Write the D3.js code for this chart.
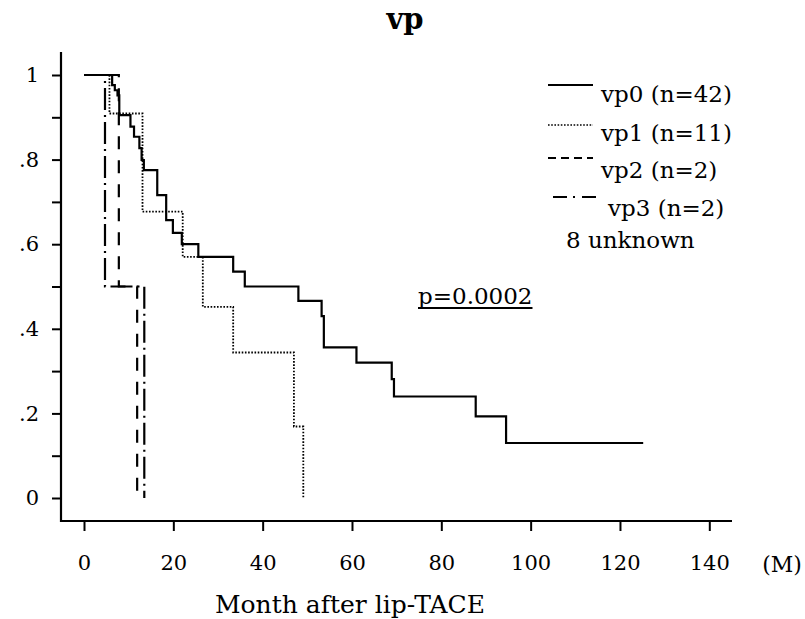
<!DOCTYPE html>
<html><head><meta charset="utf-8">
<script src="https://cdn.jsdelivr.net/npm/d3@7"></script>
<style>body{margin:0;background:#fff}svg{display:block}</style>
</head><body>
<svg id="chart" width="805" height="619"></svg>
<script>
// ---- data ----
const xTickValues = [0, 20, 40, 60, 80, 100, 120, 140];
const yTickValues = [0, 0.1, 0.2, 0.3, 0.4, 0.5, 0.6, 0.7, 0.8, 0.9, 1];
const yTickLabels = ["0", "", ".2", "", ".4", "", ".6", "", ".8", "", "1"];

const vp0Months   = [0, 6.3, 6.9, 7.5, 7.9, 10.4, 11.2, 12.4, 12.9, 13.4, 16.4, 18.4, 19.9, 21.9, 25.6, 33.4, 36.0, 48.0, 53.2, 53.7, 61.0, 68.9, 69.4, 87.7, 94.5, 125.2];
const vp0Survival = [1, 0.976, 0.964, 0.952, 0.905, 0.878, 0.854, 0.827, 0.799, 0.775, 0.716, 0.657, 0.627, 0.600, 0.570, 0.535, 0.500, 0.466, 0.430, 0.356, 0.320, 0.281, 0.240, 0.193, 0.130, 0.130];

const vp1Months   = [0, 5.7, 13.1, 22.1, 26.6, 33.4, 47.0, 49.1];
const vp1Survival = [1, 0.909, 0.677, 0.570, 0.452, 0.344, 0.169, 0];

const vp2Months   = [0, 7.8, 11.9];
const vp2Survival = [1, 0.5, 0];

const vp3Months   = [0, 4.7, 13.5];
const vp3Survival = [1, 0.5, 0];

const seriesLabels = ["vp0 (n=42)", "vp1 (n=11)", "vp2 (n=2)", "vp3 (n=2)"];
const unknownNote = "8 unknown";
const pValueText = "p=0.0002";
const titleText = "vp";
const xTitleText = "Month after lip-TACE";
const xUnitText = "(M)";

// ---- layout ----
const svg = d3.select("#chart");
const FONT = "'DejaVu Serif', serif";
const x = d3.scaleLinear().domain([0, 140]).range([84, 709.3]);
const y = d3.scaleLinear().domain([0, 1]).range([498, 75]);

const series = [
  {months: vp0Months, surv: vp0Survival, dash: null, width: 2.2},
  {months: vp1Months, surv: vp1Survival, dash: "1.6,1.6", width: 1.8},
  {months: vp2Months, surv: vp2Survival, dash: "13,11", width: 2.2},
  {months: vp3Months, surv: vp3Survival, dash: "22,5,2,5", width: 2.2}
];
const legendDash = [null, "1.6,1.6", "8,5", "14,6,2,7"];

// title
svg.append("text").attr("x", 405).attr("y", 29).attr("text-anchor", "middle")
  .attr("font-family", FONT).attr("font-weight", "bold").attr("font-size", 29)
  .text(titleText);

// axes lines
const axisY = 521;
svg.append("line").attr("x1", 61).attr("x2", 61).attr("y1", 52).attr("y2", axisY + 1)
  .attr("stroke", "#000").attr("stroke-width", 2.2);
svg.append("line").attr("x1", 60).attr("x2", 732).attr("y1", axisY).attr("y2", axisY)
  .attr("stroke", "#000").attr("stroke-width", 2.2);

// y axis ticks
const yAxis = d3.axisLeft(y).tickValues(yTickValues).tickSize(9).tickPadding(12)
  .tickFormat((d, i) => yTickLabels[i]);
const gy = svg.append("g").attr("transform", "translate(61,0)").call(yAxis);
gy.select(".domain").remove();
gy.selectAll(".tick line").attr("stroke", "#000").attr("stroke-width", 2);
gy.selectAll(".tick text").attr("font-family", FONT).attr("font-size", 21).attr("fill", "#000")
  .attr("x", -22);

// x axis ticks
const xAxis = d3.axisBottom(x).tickValues(xTickValues).tickSize(10).tickPadding(24)
  .tickFormat(d3.format("d"));
const gx = svg.append("g").attr("transform", `translate(0,${axisY})`).call(xAxis);
gx.select(".domain").remove();
gx.selectAll(".tick line").attr("stroke", "#000").attr("stroke-width", 2);
gx.selectAll(".tick text").attr("font-family", FONT).attr("font-size", 21).attr("fill", "#000");

svg.append("text").attr("x", 782).attr("y", 572).attr("text-anchor", "middle")
  .attr("font-family", FONT).attr("font-size", 22).text(xUnitText);
svg.append("text").attr("x", 350).attr("y", 613).attr("text-anchor", "middle")
  .attr("font-family", FONT).attr("font-size", 25).text(xTitleText);

// curves
const line = d3.line().x(d => x(d[0])).y(d => y(d[1])).curve(d3.curveStepAfter);
series.forEach(s => {
  const pts = s.months.map((m, i) => [m, s.surv[i]]);
  svg.append("path").attr("d", line(pts)).attr("fill", "none")
    .attr("stroke", "#000").attr("stroke-width", s.width)
    .attr("stroke-dasharray", s.dash);
});

// legend
const legendLineY = [85, 125, 158, 197];
const legendTextY = [102, 141, 178, 216];
seriesLabels.forEach((lab, i) => {
  const x0 = i === 3 ? 553 : 548;
  svg.append("line").attr("x1", x0).attr("x2", x0 + 45)
    .attr("y1", legendLineY[i]).attr("y2", legendLineY[i])
    .attr("stroke", "#000").attr("stroke-width", i === 1 ? 1.5 : 1.8)
    .attr("stroke-dasharray", legendDash[i]);
  svg.append("text").attr("x", i === 3 ? 608 : 601).attr("y", legendTextY[i])
    .attr("font-family", FONT).attr("font-size", 23).text(lab);
});
svg.append("text").attr("x", 566).attr("y", 248)
  .attr("font-family", FONT).attr("font-size", 23).text(unknownNote);

// p value
const pt = svg.append("text").attr("x", 418).attr("y", 304)
  .attr("font-family", FONT).attr("font-size", 23).text(pValueText);
const bb = pt.node().getBBox();
svg.append("line").attr("x1", bb.x).attr("x2", bb.x + bb.width)
  .attr("y1", 308).attr("y2", 308).attr("stroke", "#000").attr("stroke-width", 1.8);
</script>
</body></html>
